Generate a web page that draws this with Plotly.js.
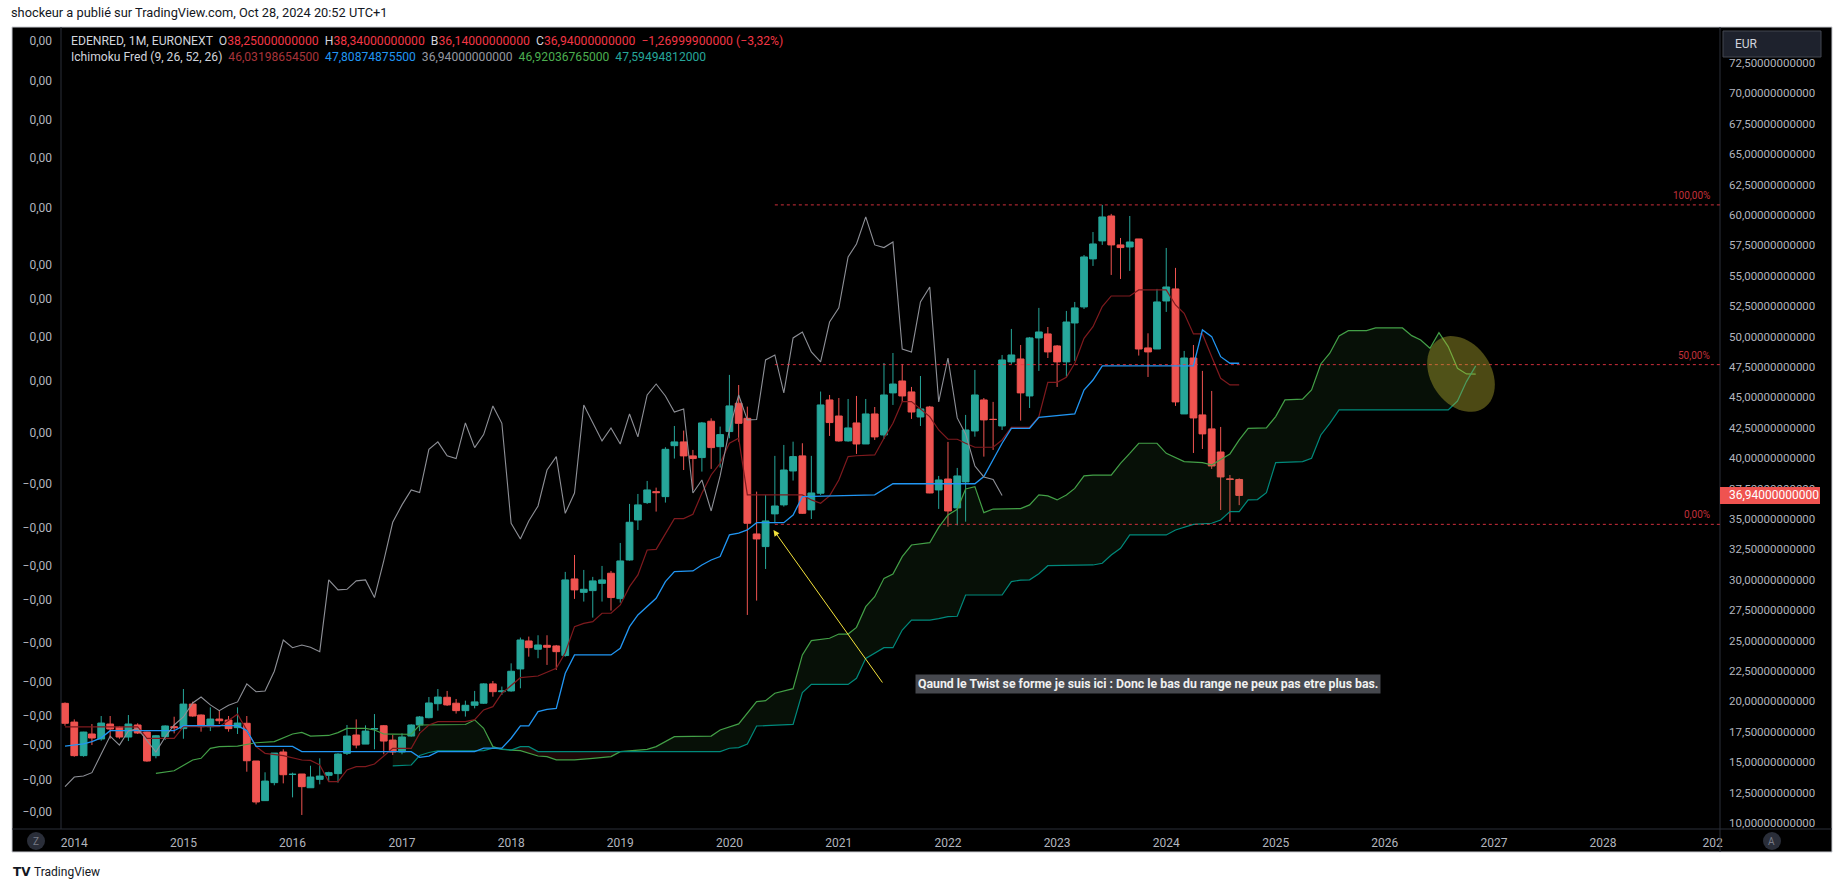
<!DOCTYPE html>
<html><head><meta charset="utf-8">
<script src="https://cdn.plot.ly/plotly-3.0.1.min.js"></script>
<style>html,body{margin:0;padding:0;background:#ffffff;}#chart{width:1835px;height:890px;}</style>
</head><body><div id="chart"></div>
<script>
// ---------- DATA (monthly bars, first bar = Dec 2013) ----------
const firstBarYear = 2013, firstBarMonth = 11;
const opens  = [19.84,18.30,15.54,17.32,16.91,18.14,17.89,17.07,18.06,17.48,15.54,17.10,17.92,17.76,19.78,18.88,17.92,18.55,18.47,17.84,
  18.20,15.10,11.84,13.32,15.84,13.99,14.03,12.90,13.59,13.92,14.06,15.73,17.24,16.49,17.73,18.00,16.82,15.84,17.15,18.06,
  18.66,19.81,20.34,19.85,19.24,19.68,19.85,21.44,20.80,20.86,22.67,24.97,24.29,24.61,24.56,23.77,30.07,28.97,29.11,29.71,
  30.54,28.45,31.63,34.92,36.35,37.25,36.84,41.03,41.34,40.19,40.05,43.04,40.95,42.19,44.52,43.28,33.77,32.73,35.42,36.16,
  38.95,40.19,35.75,37.12,44.79,43.47,41.42,42.90,41.17,43.64,41.91,45.37,46.35,45.45,43.39,44.21,37.39,38.29,35.91,38.05,
  42.24,44.79,43.20,42.65,47.92,48.16,45.12,49.89,50.22,49.23,47.92,51.12,52.44,56.39,57.87,59.92,57.54,57.37,58.03,49.07,
  48.98,52.93,53.92,43.64,48.24,43.56,42.41,40.51,38.30,38.25];
const highs  = [19.92,18.52,17.50,18.14,18.80,18.80,17.98,18.88,18.20,17.51,17.24,18.03,18.74,21.02,19.98,18.93,19.51,19.29,18.80,19.51,
  18.80,15.10,14.17,15.75,16.06,14.14,14.03,14.71,15.32,14.22,15.73,18.06,18.52,18.03,18.96,18.06,17.24,17.37,18.11,18.80,
  20.36,21.02,20.86,20.20,20.06,20.86,21.49,21.68,21.22,23.13,25.25,25.33,25.44,25.44,24.64,30.65,32.04,30.81,30.24,31.14,
  30.73,33.03,36.24,37.06,38.13,37.58,40.90,42.65,42.27,40.68,42.98,43.28,42.60,46.85,46.02,44.24,37.25,36.98,40.19,41.09,
  41.36,41.23,40.19,45.48,45.20,44.95,44.87,45.12,44.87,44.21,47.83,48.65,47.75,45.86,46.76,44.30,38.54,41.34,39.20,43.56,
  47.26,44.95,44.63,48.49,50.63,49.31,49.97,52.36,50.79,49.31,52.11,52.85,56.71,58.60,60.83,60.09,58.11,59.92,58.03,50.27,
  53.92,57.29,55.65,48.82,49.31,47.18,45.53,42.57,38.62,38.34];
const lows   = [18.00,15.45,15.45,16.41,16.77,16.93,16.93,16.74,17.32,15.04,15.32,16.82,17.37,16.93,18.74,17.51,17.56,18.14,17.51,17.32,
  14.22,11.53,11.84,13.10,13.26,12.11,10.66,12.90,13.18,13.40,13.32,15.59,16.14,16.49,16.06,15.65,15.59,15.65,17.10,17.56,
  18.61,19.24,19.63,19.00,18.75,19.43,19.79,20.39,20.53,20.80,21.08,23.68,23.55,23.00,22.59,23.68,28.43,28.21,26.89,28.21,
  27.47,28.12,31.58,34.10,36.24,35.61,36.35,39.97,39.03,37.39,38.90,39.12,39.23,41.64,41.36,27.11,28.29,30.89,34.65,36.02,
  38.16,35.42,35.00,36.98,41.83,41.36,41.36,40.35,41.17,41.50,41.58,44.38,44.63,43.23,42.65,37.12,35.83,34.37,34.48,34.78,
  41.77,40.13,40.68,42.32,47.75,43.09,44.13,47.18,48.24,45.86,46.68,48.00,52.27,55.81,57.54,55.07,54.74,55.40,48.44,46.68,
  48.98,52.03,44.30,43.64,40.43,40.76,39.12,35.74,34.76,36.14];
const closes = [18.20,15.54,17.48,16.99,18.22,17.73,17.07,18.14,17.40,15.10,17.18,17.98,17.84,19.78,18.80,17.92,18.55,18.41,17.76,18.22,
  15.12,11.73,13.45,15.75,13.97,14.01,12.99,13.78,13.86,14.14,15.67,17.15,16.41,17.56,17.76,16.74,15.84,17.07,18.06,18.72,
  19.87,20.36,19.71,19.24,19.68,19.96,21.44,20.80,20.86,22.48,25.05,24.42,24.64,24.45,24.09,29.99,29.17,29.22,29.91,29.99,
  28.54,31.55,34.73,36.16,37.39,37.17,40.73,41.34,40.19,39.97,42.90,40.87,41.94,44.30,42.87,34.65,33.36,34.84,36.07,39.03,
  40.13,35.47,37.14,44.38,42.93,41.42,42.49,41.17,43.64,41.75,45.20,46.10,45.12,43.80,44.05,37.14,38.21,35.66,38.54,42.32,
  45.20,43.15,43.18,48.08,48.49,45.37,49.89,50.38,48.74,47.92,51.20,52.36,56.55,57.62,59.84,57.54,57.32,57.78,48.98,48.74,
  52.85,54.08,44.63,48.24,43.31,42.00,39.36,38.46,38.25,36.94];

// Ichimoku lines (bar index : value)
const tenkanIdx = [0,8,9,12,13,17,19,20,21,22,24,26,27,28,29,30,31,32,33,34,36,38,39,40,41,44,45,46,47,48,50,52,54,55,56,57,58,59,60,61,62,63,64,65,66,67,68,69,70,71,72,73,74,75,81,82,83,84,85,86,87,89,90,91,92,93,95,96,97,98,99,100,102,103,104,106,107,108,109,110,111,112,113,114,115,117,118,121,122,123,124,125,126,127,128,129];
const tenkanVal = [17.9,17.9,16.96,16.96,17.92,17.92,18.95,17.6,16.28,15.73,15.54,15.18,15.15,14.77,13.4,13.4,14.36,14.63,14.63,14.85,16.14,16.14,17.37,18.06,18.33,18.34,18.5,19.3,19.57,20.67,21.95,22.09,22.72,24.0,26.15,26.42,26.56,27.25,27.25,27.93,29.44,30.4,32.45,32.5,33.83,35.03,35.03,35.39,37.12,38.62,39.58,41.23,41.64,36.98,36.98,36.57,36.29,36.9,38.21,40.13,40.2,40.27,41.64,42.87,44.65,44.65,43.42,42.32,41.56,41.56,41.23,40.9,40.9,41.5,42.54,42.54,43.42,46.24,46.24,46.65,47.81,49.86,50.82,52.47,53.34,53.34,53.84,53.84,52.6,51.92,50.22,50.22,48.35,46.57,46.03,46.03];
const kijunIdx = [0,2,3,4,5,12,13,19,20,21,25,26,38,39,40,41,45,46,48,49,50,51,52,53,54,55,56,60,61,62,63,64,65,66,67,69,70,71,72,73,74,75,76,79,80,81,89,91,100,101,102,103,104,106,107,111,112,113,114,124,125,126,127,128,129];
const kijunVal = [16.33,16.5,16.69,17.0,17.59,17.59,18.0,18.0,17.6,16.3,16.3,15.87,15.87,15.4,15.5,15.87,15.87,16.15,16.15,16.97,17.98,17.98,19.16,19.35,19.43,22.31,23.82,23.82,24.37,26.15,27.11,27.8,28.48,29.85,30.67,30.73,31.22,31.63,31.91,33.69,33.83,34.1,34.7,34.7,35.33,36.84,36.98,37.9,37.9,38.49,39.91,41.23,42.46,42.46,43.36,43.64,45.61,46.43,47.59,47.6,50.55,50.0,48.35,47.81,47.81];
const spanAIdx = [10,12,14,15,16,17,19,21,23,25,26,27,29,30,31,33,34,35,36,38,39,44,45,46,47,48,49,50,52,53,54,56,58,60,61,64,65,67,71,72,74,75,76,77,78,80,81,82,84,85,86,87,88,89,90,91,92,93,95,96,97,98,99,100,101,102,105,106,107,108,109,110,111,112,113,115,116,117,118,120,121,123,125,126,127,128,129,130,132,133,134,136,137,138,139,140,141,143,144,147,148,149,150,151,152,153,154,155];
const spanAVal = [14.08,14.3,15.18,15.32,16.14,16.28,16.33,16.6,16.69,17.32,17.45,17.15,17.2,17.43,17.78,17.78,17.65,17.32,17.31,17.3,18.06,18.1,18.48,17.79,16.28,16.06,16.0,15.95,15.51,15.46,15.19,15.19,15.32,15.46,15.87,16.06,16.28,17.1,17.15,17.65,18.15,19.02,19.98,20.06,20.67,21.05,23.82,25.0,25.19,25.54,25.54,26.09,27.79,28.61,30.12,30.48,31.9,32.86,33.05,34.31,35.33,35.8,37.47,37.66,35.52,35.82,35.85,36.16,36.98,36.9,36.57,36.98,37.52,38.54,38.6,38.6,39.58,40.4,41.23,41.23,40.4,39.72,39.64,39.45,39.86,40.35,41.5,42.46,42.5,43.42,44.79,44.85,45.61,47.75,48.63,50.05,50.49,50.49,50.71,50.71,50.08,49.72,49.04,50.33,49.18,47.39,46.93,46.92];
const spanBIdx = [36,38,39,40,41,46,47,48,49,50,51,52,61,72,73,74,75,76,77,80,81,82,86,87,88,89,90,91,92,93,95,96,97,98,99,103,104,105,106,107,108,113,114,115,116,117,121,122,123,124,126,127,128,129,130,131,132,133,136,137,138,139,140,152,153,154,155];
const spanBVal = [14.69,14.77,15.55,15.8,15.93,15.95,16.15,16.1,16.0,16.28,16.28,15.87,15.87,15.87,16.15,16.2,16.5,17.98,18.0,18.11,20.72,21.4,21.4,21.9,23.54,23.95,24.42,24.42,25.87,26.69,26.69,26.8,26.97,27.0,28.75,28.75,29.85,29.98,30.0,30.5,31.16,31.22,31.36,32.04,32.59,33.69,33.69,34.1,34.3,34.56,34.65,34.92,35.61,35.61,36.57,36.6,37.17,39.64,39.72,39.99,41.91,42.87,43.97,43.97,44.7,46.3,47.59];
const chikouShift = 26;

// Fibonacci retracement drawn on the chart
const fibAnchorBar = 78;
const fibLow = 34.56, fibHigh = 60.83;
const fibLevels = [0, 0.5, 1];
const fibLabels = ['0,00%', '50,00%', '100,00%'];

// Axis labels
const yearTickDates = ['2014-01-01','2015-01-01','2016-01-01','2017-01-01','2018-01-01','2019-01-01','2020-01-01','2021-01-01','2022-01-01','2023-01-01','2024-01-01','2025-01-01','2026-01-01','2027-01-01','2028-01-01','2029-01-01'];
const yearTickText  = ['2014','2015','2016','2017','2018','2019','2020','2021','2022','2023','2024','2025','2026','2027','2028','202'];
const priceTicks = [10,12.5,15,17.5,20,22.5,25,27.5,30,32.5,35,37.5,40,42.5,45,47.5,50,52.5,55,57.5,60,62.5,65,67.5,70,72.5];
const priceTickText = ['10,00000000000','12,50000000000','15,00000000000','17,50000000000','20,00000000000','22,50000000000','25,00000000000','27,50000000000','30,00000000000','32,50000000000','35,00000000000','37,50000000000','40,00000000000','42,50000000000','45,00000000000','47,50000000000','50,00000000000','52,50000000000','55,00000000000','57,50000000000','60,00000000000','62,50000000000','65,00000000000','67,50000000000','70,00000000000','72,50000000000'];
const leftTicks = [74.31,71.02,67.81,64.69,60.58,55.89,53.09,49.97,46.35,42.07,37.88,34.26,31.13,28.34,24.80,21.59,18.80,16.41,13.54,10.90];
const leftTickText = ['0,00','0,00','0,00','0,00','0,00','0,00','0,00','0,00','0,00','0,00','−0,00','−0,00','−0,00','−0,00','−0,00','−0,00','−0,00','−0,00','−0,00','−0,00'];
const lastPriceText = '36,94000000000';

// ---------- helpers ----------
function barDate(i){ const d = new Date(Date.UTC(firstBarYear, firstBarMonth + i, 1)); return d.toISOString().slice(0,10); }
const W = 1835, H = 890, PL = 61, PR = 1720, PT = 27, PB = 829;
const px = x => (x - PL) / (PR - PL);
const py = y => (PB - y) / (PB - PT);
const xRange = ['2013-11-17 14:00', '2029-01-26'];
const yRange = [9.507, 75.46];

const bars = closes.map((_, i) => barDate(i));
const C_UP = '#26a69a', C_DN = '#ef5350';
const C_TEN = '#7f1a1e', C_KIJ = '#2196f3', C_CHI = '#8e9097', C_A = '#43a047', C_B = '#00897b';

function seg(ix, vals, lo, hi){
  const xs = [], ys = [];
  ix.forEach((k, j) => { if (k >= lo && k <= hi){ xs.push(barDate(k)); ys.push(vals[j]); } });
  return {x: xs, y: ys};
}
const traces = [];
function cloud(lo, hi, color){
  const b = seg(spanBIdx, spanBVal, lo, hi), a = seg(spanAIdx, spanAVal, lo, hi);
  traces.push({type:'scatter', mode:'lines', x:b.x, y:b.y, line:{width:0}, hoverinfo:'skip'});
  traces.push({type:'scatter', mode:'lines', x:a.x, y:a.y, line:{width:0}, fill:'tonexty', fillcolor:color, hoverinfo:'skip'});
}
cloud(36, 49, 'rgba(67,160,71,0.10)');
cloud(49, 61, 'rgba(244,67,54,0.12)');
cloud(61, 155, 'rgba(67,160,71,0.10)');

traces.push({type:'scatter', mode:'lines', x:spanAIdx.map(barDate), y:spanAVal, line:{color:C_A, width:1.2}, hoverinfo:'skip'});
traces.push({type:'scatter', mode:'lines', x:spanBIdx.map(barDate), y:spanBVal, line:{color:C_B, width:1.2}, hoverinfo:'skip'});
traces.push({type:'scatter', mode:'lines', yaxis:'y2',
  x: closes.slice(chikouShift).map((_, j) => barDate(j)), y: closes.slice(chikouShift),
  line:{color:C_CHI, width:1.1}, hoverinfo:'skip'});
traces.push({type:'scatter', mode:'lines', x:tenkanIdx.map(barDate), y:tenkanVal, line:{color:C_TEN, width:1.2}, hoverinfo:'skip'});
traces.push({type:'scatter', mode:'lines', x:kijunIdx.map(barDate), y:kijunVal, line:{color:C_KIJ, width:1.3}, hoverinfo:'skip'});
traces.push({type:'candlestick', x:bars, open:opens, high:highs, low:lows, close:closes,
  increasing:{line:{color:C_UP, width:1}, fillcolor:C_UP},
  decreasing:{line:{color:C_DN, width:1}, fillcolor:C_DN},
  whiskerwidth:0, hoverinfo:'skip'});

// ---------- shapes ----------
const shapes = [];
shapes.push({type:'rect', xref:'paper', yref:'paper', x0:px(12), x1:px(1832), y0:py(852), y1:py(27), fillcolor:'#000000', line:{color:'#c9cbd1', width:1}, layer:'below'});
shapes.push({type:'line', xref:'paper', yref:'paper', x0:px(61), x1:px(61), y0:py(829), y1:py(27), line:{color:'#2a2e39', width:1}, layer:'above'});
shapes.push({type:'line', xref:'paper', yref:'paper', x0:px(1720), x1:px(1720), y0:py(852), y1:py(27), line:{color:'#2a2e39', width:1}, layer:'above'});
shapes.push({type:'line', xref:'paper', yref:'paper', x0:px(12), x1:px(1832), y0:py(829), y1:py(829), line:{color:'#2a2e39', width:1}, layer:'above'});
fibLevels.forEach(l => {
  const v = fibLow + (fibHigh - fibLow) * l;
  shapes.push({type:'line', xref:'x', yref:'y', x0:barDate(fibAnchorBar), x1:xRange[1], y0:v, y1:v, line:{color:'rgba(242,54,69,0.85)', width:1, dash:'dot'}});
});
(function(){
  const cx = 1461, cy = 374, a = 41, b = 30, th = 56 * Math.PI / 180;
  let d = '';
  for (let k = 0; k <= 60; k++){
    const t = 2 * Math.PI * k / 60;
    const X = cx + a * Math.cos(t) * Math.cos(th) - b * Math.sin(t) * Math.sin(th);
    const Y = cy + a * Math.cos(t) * Math.sin(th) + b * Math.sin(t) * Math.cos(th);
    d += (k === 0 ? 'M' : 'L') + px(X).toFixed(5) + ',' + py(Y).toFixed(5) + ' ';
  }
  shapes.push({type:'path', xref:'paper', yref:'paper', path: d + 'Z', fillcolor:'rgba(190,182,50,0.40)', line:{width:0}, layer:'above'});
})();
const lastClose = closes[closes.length - 1];
shapes.push({type:'rect', xref:'paper', yref:'y', x0:px(1720), x1:px(1820), y0:lastClose - 0.7, y1:lastClose + 0.7, fillcolor:'#ef5350', line:{width:0}, layer:'above'});
shapes.push({type:'rect', xref:'paper', yref:'paper', x0:px(1723), x1:px(1821), y0:py(57), y1:py(31), fillcolor:'#1e222d', line:{color:'#434651', width:1}, layer:'above'});
[[36, 841], [1772, 841]].forEach(([cx, cy]) => {
  shapes.push({type:'circle', xref:'paper', yref:'paper', x0:px(cx - 9), x1:px(cx + 9), y0:py(cy + 9), y1:py(cy - 9), fillcolor:'#2a2e39', line:{width:0}, layer:'above'});
});

// ---------- annotations ----------
const F = 'Roboto, "Noto Sans", sans-serif';
const ann = [];
ann.push({xref:'paper', yref:'paper', x:px(9), y:py(12), xanchor:'left', yanchor:'middle', showarrow:false,
  text:'shockeur a publié sur TradingView.com, Oct 28, 2024 20:52 UTC+1', font:{family:F, size:12.8, color:'#131722'}});
const R = '#f23645', G = '#d1d4dc';
ann.push({xref:'paper', yref:'paper', x:px(69), y:py(41), xanchor:'left', yanchor:'middle', showarrow:false, font:{family:F, size:12.2, color:G},
  text:'EDENRED, 1M, EURONEXT  O<span style="color:'+R+'">38,25000000000</span>  H<span style="color:'+R+'">38,34000000000</span>  B<span style="color:'+R+'">36,14000000000</span>  C<span style="color:'+R+'">36,94000000000</span>  <span style="color:'+R+'">−1,26999900000 (−3,32%)</span>'});
ann.push({xref:'paper', yref:'paper', x:px(69), y:py(57), xanchor:'left', yanchor:'middle', showarrow:false, font:{family:F, size:12.1, color:G},
  text:'Ichimoku Fred (9, 26, 52, 26)  <span style="color:#a8343a">46,03198654500</span>  <span style="color:#2196f3">47,80874875500</span>  <span style="color:#9598a1">36,94000000000</span>  <span style="color:#4caf50">46,92036765000</span>  <span style="color:#26a69a">47,59494812000</span>'});
fibLevels.forEach((l, k) => {
  const v = fibLow + (fibHigh - fibLow) * l;
  ann.push({xref:'paper', yref:'y', x:px(1712), y:v, xanchor:'right', yanchor:'bottom', yshift:2, showarrow:false, text:fibLabels[k], font:{family:F, size:10, color:'#c2313b'}});
});
ann.push({xref:'paper', yref:'paper', x:px(1733), y:py(44), xanchor:'left', yanchor:'middle', showarrow:false, text:'EUR', font:{family:F, size:12, color:'#d1d4dc'}});
ann.push({xref:'paper', yref:'y', x:px(1727), y:lastClose, xanchor:'left', yanchor:'middle', showarrow:false, text:lastPriceText, font:{family:F, size:12, color:'#ffffff'}});
ann.push({xref:'paper', yref:'paper', x:px(36), y:py(841), xanchor:'center', yanchor:'middle', showarrow:false, text:'Z', font:{family:F, size:10, color:'#787b86'}});
ann.push({xref:'paper', yref:'paper', x:px(1772), y:py(841), xanchor:'center', yanchor:'middle', showarrow:false, text:'A', font:{family:F, size:10, color:'#787b86'}});
ann.push({xref:'paper', yref:'paper', x:px(773.5), y:py(530), ax:110, ay:154, showarrow:true, arrowhead:2, arrowsize:1.2, arrowwidth:1, arrowcolor:'#f5e33b', text:'', standoff:0});
ann.push({xref:'paper', yref:'paper', x:px(1148), y:py(684), xanchor:'center', yanchor:'middle', showarrow:false, bgcolor:'#46484e', borderpad:2,
  text:'<b>Qaund le Twist se forme je suis ici : Donc le bas du range ne peux pas etre plus bas.</b>', font:{family:F, size:12.3, color:'#f0f0f0'}});
ann.push({xref:'paper', yref:'paper', x:px(11), y:py(872), xanchor:'left', yanchor:'middle', showarrow:false, text:'<b>TV</b>', font:{family:'"DejaVu Sans", sans-serif', size:12, color:'#131722'}});
ann.push({xref:'paper', yref:'paper', x:px(32), y:py(872), xanchor:'left', yanchor:'middle', showarrow:false, text:'TradingView', font:{family:F, size:12, color:'#131722'}});

const layout = {
  width: W, height: H,
  margin: {l: PL, r: W - PR, t: PT, b: H - PB, pad: 0},
  paper_bgcolor: '#ffffff', plot_bgcolor: '#000000',
  showlegend: false, hovermode: false, dragmode: false,
  boxgap: 0.1, boxgroupgap: 0.1,
  xaxis: {type:'date', range:xRange, rangeslider:{visible:false}, showgrid:false, zeroline:false, showline:false,
    tickmode:'array', tickvals:yearTickDates, ticktext:yearTickText, ticks:'', ticklabelstandoff:5,
    tickfont:{family:F, size:12, color:'#b2b5be'}, fixedrange:true},
  yaxis: {range:yRange, side:'right', showgrid:false, zeroline:false, showline:false,
    tickmode:'array', tickvals:priceTicks, ticktext:priceTickText, ticks:'', ticklabelstandoff:8,
    tickfont:{family:F, size:11.5, color:'#b2b5be'}, fixedrange:true},
  yaxis2: {range:yRange, overlaying:'y', side:'left', showgrid:false, zeroline:false, showline:false,
    tickmode:'array', tickvals:leftTicks, ticktext:leftTickText, ticks:'', ticklabelstandoff:8,
    tickfont:{family:F, size:12, color:'#b2b5be'}, fixedrange:true},
  shapes: shapes, annotations: ann
};
Plotly.newPlot('chart', traces, layout, {displayModeBar:false, staticPlot:true});
</script>
</body></html>
